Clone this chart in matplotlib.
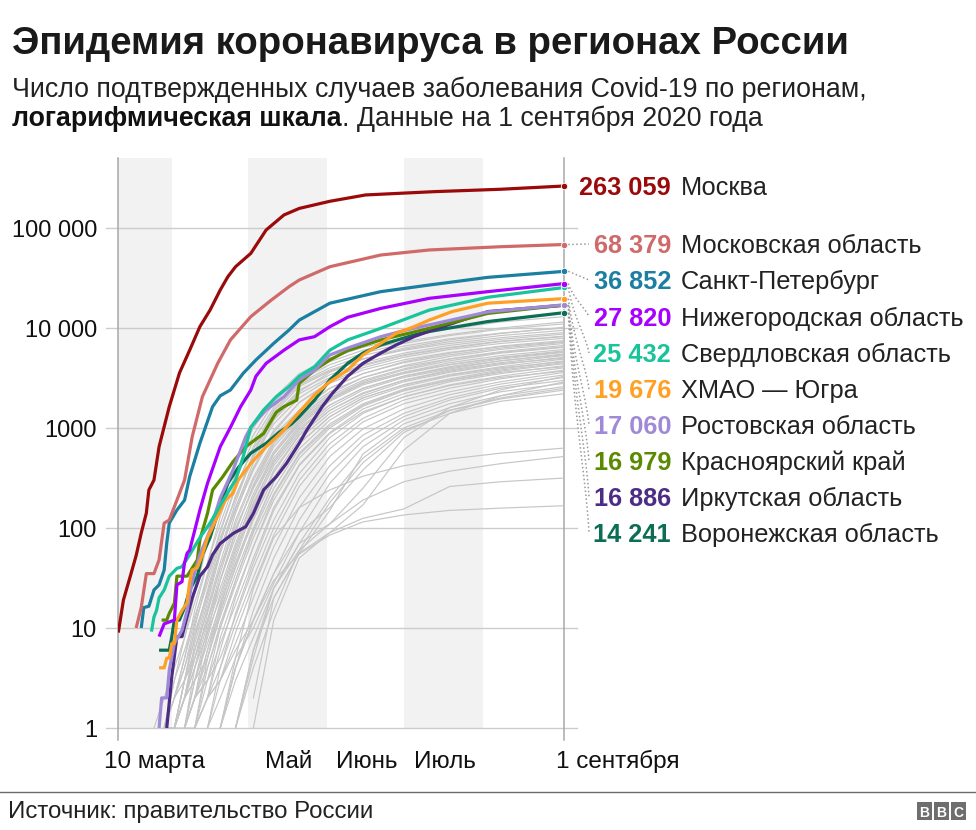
import numpy as np
import matplotlib
matplotlib.use("Agg")
import matplotlib.pyplot as plt
from matplotlib import font_manager
from matplotlib.transforms import IdentityTransform, blended_transform_factory
from matplotlib.lines import Line2D
from matplotlib.patches import Rectangle

nan = np.nan

# ------------------------------------------------------------------ data
# x = days since 10 March 2020 (1 September = day 175)
region_names = ["Москва", "Московская область", "Санкт-Петербург",
                "Нижегородская область", "Свердловская область", "ХМАО — Югра",
                "Ростовская область", "Красноярский край", "Иркутская область",
                "Воронежская область"]
region_totals = [263059, 68379, 36852, 27820, 25432, 19676, 17060, 16979, 16886, 14241]
region_colors = ["#9b0a0a", "#d06a6a", "#1a7fa1", "#a700ff", "#19c39b",
                 "#ffa024", "#a08ad8", "#5b8a00", "#4d2c85", "#0b6e55"]

moscow_days = [0, 2, 5, 7, 9, 11, 12, 14, 16, 20, 24, 28, 32, 36, 40, 43, 46, 52, 58,
               65, 71, 83, 97, 124, 150, 175]
moscow_cases = [9, 19, 35, 53, 89, 141, 240, 302, 650, 1635, 3550, 6000, 10300, 15100,
                24000, 32600, 41000, 55800, 95500, 135000, 157000, 185000, 214000,
                231000, 244000, 263059]

mo_obl_days = [7, 9, 11, 14, 16, 18, 20, 23, 26, 29, 33, 39, 44, 52, 60, 67, 71, 83,
               103, 122, 150, 175]
mo_obl_cases = [10, 16, 35, 35, 48, 112, 120, 190, 302, 819, 2056, 4430, 7600, 13000,
                19000, 25900, 30200, 41000, 53700, 60300, 65000, 68379]

spb_days = [9, 10, 12, 14, 16, 18, 19, 20, 23, 26, 28, 32, 37, 40, 44, 49, 54, 61, 67,
            71, 83, 103, 122, 145, 175]
spb_cases = [10, 16, 16.5, 24, 27, 38, 70, 112, 151, 190, 326, 703, 1635, 2100, 2400,
             3520, 4790, 7030, 9550, 12000, 17700, 23100, 26900, 32100, 36852]

nn_days = [16, 18, 22, 23, 25, 26, 27, 28, 30, 32, 35, 40, 44, 48, 52, 54, 58, 65, 71,
           77, 83, 90, 103, 122, 145, 175]
nn_cases = [8.2, 11, 12, 27, 29, 45, 56, 60, 95, 151, 280, 650, 1016, 1635, 2400, 3290,
            4430, 6000, 7600, 8190, 10300, 12800, 15700, 19800, 23100, 27820]

sverd_days = [13, 14, 15, 16, 18, 20, 23, 25, 28, 32, 36, 40, 44, 46, 49, 52, 57, 62,
              67, 71, 77, 83, 90, 103, 122, 145, 175]
sverd_cases = [9.2, 12.9, 15, 20, 24, 33, 39.5, 41, 54, 80, 112, 168, 250, 300, 516,
               1016, 1514, 2056, 2600, 3290, 4100, 6000, 7600, 9930, 15100, 20300, 25432]

hmao_days = [16, 18, 19, 20, 21, 22, 23, 25, 27, 28, 29, 31, 33, 35, 42, 45, 47, 52, 58,
             65, 70, 77, 83, 90, 96, 103, 109, 116, 122, 131, 145, 175]
hmao_cases = [4, 4, 5, 5, 7, 7, 12, 15, 18, 29, 38, 40, 54, 80, 190, 222, 300, 443, 650,
              955, 1350, 2140, 2900, 3800, 5370, 7030, 8850, 10300, 12000, 14600, 17700,
              19676]

rostov_days = [16, 17, 19, 20, 22, 25, 27, 29, 32, 36, 40, 45, 50, 52, 58, 65, 71, 77,
               83, 90, 103, 113, 145, 175]
rostov_cases = [1, 2, 2, 3.8, 7, 9.5, 15, 29, 54, 95, 200, 380, 819, 1016, 1514, 2056,
                3020, 3800, 5370, 6300, 8190, 9550, 14500, 17060]

krasn_days = [17, 19, 20, 22, 23, 27, 31, 32, 35, 37, 41, 45, 50, 57, 62, 65, 70, 71,
              77, 83, 90, 103, 122, 145, 175]
krasn_cases = [12, 12, 14, 17.7, 33, 33, 48, 76, 140, 240, 326, 460, 650, 880, 1440,
               1635, 1900, 2800, 3800, 4790, 5950, 7600, 9930, 14000, 16979]

irk_days = [19, 20, 21, 22, 23, 25, 27, 29, 32, 35, 37, 40, 45, 50, 53, 57, 62, 66, 71,
            74, 80, 84, 90, 96, 103, 109, 116, 122, 145, 175]
irk_cases = [1, 1.8, 3.3, 5.2, 8.2, 8.2, 13, 20, 33, 41, 54, 70, 88, 103, 140, 240, 326,
             443, 703, 955, 1635, 2220, 3290, 4430, 5620, 6760, 8190, 9300, 14600, 16886]

vrn_days = [16, 20, 21, 22, 24, 26, 28, 31, 33, 36, 39, 43, 47, 52, 58, 63, 68, 71, 77,
            83, 90, 96, 103, 116, 122, 145, 175]
vrn_cases = [6, 6, 8.2, 12, 12, 16, 24, 33, 54, 80, 140, 280, 400, 560, 703, 900, 1100,
             1300, 1900, 3020, 4430, 5620, 6760, 8510, 9250, 11600, 14241]

highlight_days = [moscow_days, mo_obl_days, spb_days, nn_days, sverd_days, hmao_days,
                  rostov_days, krasn_days, irk_days, vrn_days]
highlight_cases = [moscow_cases, mo_obl_cases, spb_cases, nn_cases, sverd_cases,
                   hmao_cases, rostov_cases, krasn_cases, irk_cases, vrn_cases]

# other regions (grey), sampled on common days
grid_days = [14, 18, 22, 26, 30, 35, 40, 46, 53, 61, 71, 83, 96, 112, 130, 150, 175]
other_regions = [
    [nan, 1, 3, 8, 22, 70, 180, 450, 1000, 2000, 3500, 5000, 6400, 8000, 9800, 11500, 13000],
    [nan, nan, 2, 5, 15, 45, 130, 350, 850, 1800, 3200, 4600, 6000, 7300, 8600, 10000, 11500],
    [1, 2, 4, 8, 18, 45, 110, 300, 750, 1600, 3000, 4300, 5600, 7000, 8400, 9700, 11000],
    [nan, nan, 1, 3, 10, 32, 90, 250, 650, 1500, 2800, 4000, 5300, 6600, 7800, 8900, 10000],
    [nan, 1, 2, 4, 11, 28, 75, 200, 550, 1400, 2600, 3700, 4900, 6100, 7300, 8400, 9500],
    [nan, nan, nan, 2, 7, 20, 60, 180, 550, 1500, 2700, 3800, 4900, 6000, 7000, 8000, 9000],
    [nan, 1, 3, 6, 13, 32, 80, 200, 500, 1300, 2400, 3400, 4500, 5600, 6700, 7700, 8700],
    [nan, nan, 1, 2, 6, 18, 55, 160, 450, 1200, 2200, 3200, 4300, 5400, 6400, 7400, 8300],
    [nan, nan, 2, 4, 9, 22, 60, 150, 380, 900, 1800, 2900, 4000, 5100, 6100, 7000, 7900],
    [nan, 1, 1, 3, 8, 22, 60, 160, 400, 850, 1500, 2500, 3500, 4600, 5600, 6600, 7500],
    [nan, nan, nan, 1, 4, 14, 40, 120, 320, 750, 1500, 2500, 3500, 4500, 5400, 6300, 7200],
    [nan, nan, 1, 2, 5, 12, 35, 110, 300, 700, 1300, 2200, 3200, 4200, 5200, 6100, 7000],
    [nan, nan, nan, nan, 2, 9, 30, 95, 260, 650, 1250, 2100, 3000, 3900, 4900, 5800, 6700],
    [nan, 1, 2, 3, 6, 15, 40, 100, 250, 580, 1200, 2000, 2900, 3800, 4700, 5600, 6400],
    [nan, nan, 1, 3, 5, 12, 30, 80, 220, 550, 1100, 1900, 2800, 3600, 4500, 5300, 6100],
    [nan, nan, nan, 1, 3, 10, 25, 70, 200, 500, 1050, 1850, 2700, 3500, 4300, 5100, 5900],
    [nan, nan, 1, 2, 4, 9, 20, 60, 180, 450, 950, 1700, 2500, 3300, 4100, 4900, 5700],
    [nan, nan, nan, nan, 1, 5, 16, 50, 160, 420, 900, 1600, 2400, 3200, 3900, 4700, 5500],
    [nan, 1, 1, 2, 3, 7, 17, 45, 130, 360, 850, 1500, 2200, 3000, 3800, 4500, 5300],
    [nan, nan, nan, 1, 2, 6, 15, 40, 120, 320, 780, 1400, 2100, 2900, 3600, 4300, 5100],
    [nan, nan, 1, 2, 3, 5, 13, 35, 100, 290, 700, 1300, 2000, 2700, 3400, 4100, 4900],
    [nan, nan, nan, nan, 1, 4, 11, 30, 90, 250, 620, 1200, 1900, 2600, 3300, 3900, 4700],
    [nan, nan, nan, 1, 2, 4, 10, 27, 80, 220, 560, 1100, 1750, 2450, 3100, 3800, 4500],
    [nan, nan, nan, nan, nan, 2, 8, 22, 65, 190, 500, 1000, 1650, 2350, 3000, 3700, 4400],
    [nan, nan, 1, 1, 2, 3, 7, 17, 50, 160, 430, 900, 1550, 2200, 2900, 3500, 4200],
    [nan, nan, nan, 1, 2, 3, 5, 13, 40, 120, 350, 800, 1400, 2050, 2700, 3300, 4000],
    [nan, nan, nan, nan, 1, 2, 4, 11, 32, 100, 300, 700, 1250, 1900, 2500, 3100, 3800],
    [nan, nan, nan, nan, nan, 1, 3, 9, 27, 85, 260, 620, 1150, 1750, 2300, 2900, 3600],
    [nan, nan, nan, 1, 1, 2, 3, 7, 20, 65, 200, 520, 980, 1550, 2150, 2750, 3400],
    [nan, nan, nan, nan, nan, nan, 1, 4, 15, 50, 160, 420, 850, 1400, 2000, 2600, 3200],
    [nan, nan, nan, nan, 1, 2, 3, 6, 12, 35, 120, 350, 750, 1300, 1900, 2500, 3000],
    [nan, nan, nan, nan, nan, 1, 2, 5, 10, 28, 90, 280, 650, 1200, 1750, 2300, 2800],
    [nan, nan, nan, nan, nan, nan, nan, 1, 6, 20, 56, 150, 550, 1100, 1600, 2100, 2600],
    [nan, nan, nan, nan, nan, nan, 1, 3, 8, 25, 70, 200, 500, 1000, 1500, 1950, 2400],
    [nan, nan, nan, nan, nan, nan, nan, 1, 4, 15, 60, 180, 450, 950, 1400, 1850, 2200],
    [nan, nan, nan, nan, nan, nan, nan, nan, 2, 20, 56, 90, 170, 600, 1400, 2100, 2900],
    [nan, nan, nan, nan, nan, nan, nan, 1, 5, 25, 70, 110, 250, 800, 1600, 2400, 3300],
    [nan, nan, nan, nan, nan, nan, 1, 4, 12, 35, 90, 160, 380, 900, 1500, 2000, 2500],
    [nan, nan, nan, nan, nan, nan, 1, 5, 25, 80, 160, 240, 330, 420, 490, 560, 630],
    [nan, nan, nan, nan, nan, nan, nan, 1, 6, 25, 60, 110, 190, 290, 370, 440, 520],
    [nan, nan, nan, nan, nan, nan, nan, nan, 1, 12, 50, 90, 125, 155, 260, 290, 316],
    [nan, nan, nan, nan, nan, nan, 1, 4, 12, 30, 55, 85, 115, 135, 150, 158, 167],
    [nan, 1, 2, 5, 12, 35, 95, 260, 620, 1250, 2300, 3600, 4900, 6300, 7600, 8800, 10200],
    [nan, nan, 1, 3, 8, 24, 70, 210, 520, 1100, 2000, 3100, 4200, 5300, 6300, 7300, 8200],
    [nan, nan, nan, 2, 5, 16, 45, 140, 400, 950, 1800, 2800, 3800, 4800, 5700, 6500, 7300],
    [nan, nan, 1, 2, 4, 11, 30, 90, 270, 700, 1400, 2300, 3200, 4100, 4900, 5700, 6500],
    [nan, nan, nan, 1, 3, 8, 22, 65, 200, 550, 1150, 1950, 2800, 3600, 4300, 5000, 5800],
    [nan, nan, nan, nan, 2, 6, 18, 55, 170, 470, 1000, 1700, 2500, 3300, 4000, 4700, 5400],
    [nan, nan, nan, 1, 2, 5, 14, 42, 130, 380, 850, 1500, 2250, 3000, 3700, 4400, 5000],
    [nan, nan, nan, nan, 1, 3, 10, 30, 95, 290, 700, 1300, 2000, 2700, 3400, 4000, 4600],
    [nan, nan, nan, nan, nan, 2, 6, 20, 65, 210, 540, 1050, 1700, 2400, 3000, 3600, 4100],
    [nan, nan, nan, nan, nan, 1, 4, 14, 45, 150, 420, 880, 1450, 2050, 2650, 3200, 3700],
]

y_ticks = [1, 10, 100, 1000, 10000, 100000]
y_tick_labels = ["1", "10", "100", "1000", "10 000", "100 000"]
x_tick_labels = ["10 марта", "Май", "Июнь", "Июль", "1 сентября"]
shade_ranges = [(0, 21), (51, 82), (112, 143)]   # до 1 апреля, май, июль

# ------------------------------------------------------------------ layout
W, H = 976, 830
FONT = "Liberation Sans"
plt.rcParams["font.family"] = [FONT, "DejaVu Sans"]
installed = {f.name for f in font_manager.fontManager.ttflist}
NARROW = "Liberation Sans Narrow" if "Liberation Sans Narrow" in installed else FONT

fig = plt.figure(figsize=(W / 100, H / 100), dpi=100)
fig.patch.set_facecolor("white")

ax_left, ax_right, ax_top, ax_bot = 118.3, 564.3, 158, 740
ax = fig.add_axes([ax_left / W, 1 - ax_bot / H, (ax_right - ax_left) / W,
                   (ax_bot - ax_top) / H])
ax.set_yscale("log")
ax.set_xlim(0, 175)
ax.set_ylim(10 ** -0.12, 10 ** 5.70)
for s in ax.spines.values():
    s.set_visible(False)
ax.set_xticks([])
ax.set_yticks([])
ax.yaxis.set_minor_locator(matplotlib.ticker.NullLocator())

# shading
for a, b in shade_ranges:
    ax.fill_between([a, b], 1, 10 ** 5.70, color="#f2f2f2", lw=0, zorder=0)

# gridlines (extending beyond the axis)
ytr = blended_transform_factory(ax.transAxes, ax.transData)
for yv in y_ticks:
    ax.plot([-12 / 446, 1 + 13 / 446], [yv, yv], color="#cccccc", lw=1.0,
            transform=ytr, clip_on=False, zorder=1)

# vertical axis lines
for xv in (0, 175):
    ax.plot([xv, xv], [10 ** -0.12, 10 ** 5.70], color="#a8a8a8", lw=1.1,
            clip_on=False, zorder=1)

# grey regions
gd = np.array(grid_days, dtype=float)
for row in other_regions:
    r = np.array(row, dtype=float)
    ax.plot(gd, r, color="#c6c6c6", lw=0.85, zorder=2, solid_joinstyle="round")

# highlighted regions
for i in range(len(region_names) - 1, -1, -1):
    ax.plot(highlight_days[i], highlight_cases[i], color=region_colors[i], lw=2.3,
            zorder=3 + (10 - i) * 0.01, solid_joinstyle="round", solid_capstyle="butt")
    ax.plot([175], [region_totals[i]], "o", color=region_colors[i], ms=4.6,
            mec="white", mew=0.6, clip_on=False, zorder=5)

fig.canvas.draw()


def to_px(x, y):
    """data -> image pixel coords (origin top-left)"""
    dx, dy = ax.transData.transform((x, y))
    return dx, H - dy


def ftext(x, y, s, **kw):
    """text placed in image pixel coords (origin top-left)"""
    return fig.text(x / W, 1 - y / H, s, **kw)


# y tick labels
for yv, lab in zip(y_ticks, y_tick_labels):
    _, py = to_px(0, yv)
    ftext(97, py + 9, lab, ha="right", va="baseline", fontsize=17, color="#111111")

# x labels
xlab_y = 768
ftext(104, xlab_y, x_tick_labels[0], ha="left", va="baseline", fontsize=17.5, color="#111111")
for lab, day in zip(x_tick_labels[1:4], [67, 97.5, 128]):
    px, _ = to_px(day, 1)
    ftext(px, xlab_y, lab, ha="center", va="baseline", fontsize=17.5, color="#111111")
ftext(556, xlab_y, x_tick_labels[4], ha="left", va="baseline", fontsize=17.5, color="#111111")

# right-hand labels
label_centres = [186, 244, 280, 317, 353, 389, 425, 461, 497, 533]
for i, (name, tot, col) in enumerate(zip(region_names, region_totals, region_colors)):
    cy = label_centres[i]
    num = f"{tot:,}".replace(",", " ")
    ftext(671, cy + 9, num, ha="right", va="baseline", fontsize=18.3,
          fontweight="bold", color=col)
    ftext(681, cy + 9, name, ha="left", va="baseline", fontsize=18.3, color="#222222")
    if i == 0:
        continue
    x0, y0 = to_px(175, tot)
    x0 += 4
    x1, y1 = 589, cy
    t = np.linspace(0, 1, 60)
    if abs(y1 - y0) < 12:
        xs, ys = np.array([x0, x1]), np.array([y0, y1])
    else:
        p0 = np.array([x0, y0]); p1 = np.array([x0 + 5, y0 + 0.45 * (y1 - y0)])
        p2 = np.array([x1 - 3, y1 - 0.25 * (y1 - y0)]); p3 = np.array([x1, y1])
        pts = ((1 - t) ** 3)[:, None] * p0 + (3 * (1 - t) ** 2 * t)[:, None] * p1 + \
              (3 * (1 - t) * t ** 2)[:, None] * p2 + (t ** 3)[:, None] * p3
        xs, ys = pts[:, 0], pts[:, 1]
    fig.add_artist(Line2D(xs, H - ys, transform=IdentityTransform(), color="#9a9a9a",
                          lw=1.1, linestyle=(0, (1, 1.6)), zorder=4))

# ------------------------------------------------------------------ titles
renderer = fig.canvas.get_renderer()


def fit(txt, target_w):
    w = txt.get_window_extent(renderer).width
    txt.set_fontsize(txt.get_fontsize() * target_w / w)
    return txt


title = ftext(12, 54, "Эпидемия коронавируса в регионах России", ha="left",
              va="baseline", fontsize=28, fontweight="bold", color="#1a1a1a")
fit(title, 838)

sub1 = ftext(12, 97, "Число подтвержденных случаев заболевания Covid-19 по регионам,",
             ha="left", va="baseline", fontsize=16, color="#222222")
fit(sub1, 856)
fs_sub = sub1.get_fontsize()
sub2a = ftext(12, 126, "логарифмическая шкала", ha="left", va="baseline",
              fontsize=fs_sub, fontweight="bold", color="#111111")
w2a = sub2a.get_window_extent(renderer).width
ftext(12 + w2a, 126, ". Данные на 1 сентября 2020 года", ha="left", va="baseline",
      fontsize=fs_sub, color="#222222")

# footer
fig.add_artist(Line2D([0, W], [H - 792, H - 792], transform=IdentityTransform(),
                      color="#6b6b6b", lw=1.0))
foot = ftext(8, 818, "Источник: правительство России", ha="left", va="baseline",
             fontsize=15, color="#222222", family=[NARROW, "DejaVu Sans"])
fit(foot, 367)

for k, ch in enumerate("BBC"):
    x0 = 917 + k * 17
    fig.add_artist(Rectangle((x0, H - 820), 15, 18, transform=IdentityTransform(),
                             color="#6e6e6e", lw=0))
    ftext(x0 + 7.5, 816.5, ch, ha="center", va="baseline", fontsize=10,
          fontweight="bold", color="white")

fig.savefig("out.png", dpi=100, facecolor="white")
